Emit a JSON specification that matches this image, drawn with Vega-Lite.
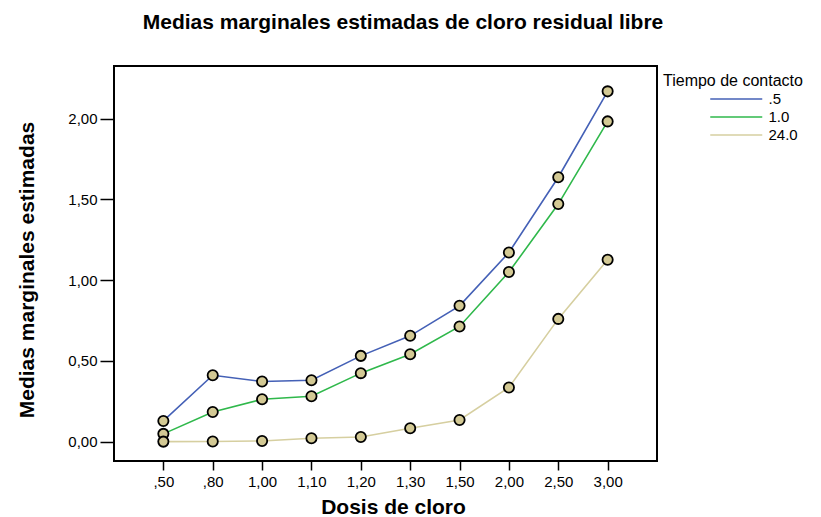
{
  "$schema": "https://vega.github.io/schema/vega-lite/v6.json",
  "autosize": {"type": "none"},
  "padding": {"left": 114, "top": 66, "right": 164, "bottom": 56},
  "width": 543,
  "height": 395,
  "background": "white",
  "title": {
    "text": "Medias marginales estimadas de cloro residual libre",
    "font": "Liberation Sans",
    "fontSize": 21,
    "fontWeight": "bold",
    "color": "black",
    "anchor": "middle",
    "frame": "group",
    "baseline": "alphabetic",
    "dx": 17.5,
    "offset": 16
  },
  "config": {
    "view": {"stroke": "black", "strokeWidth": 2},
    "axis": {"grid": false, "domain": false, "tickColor": "black", "tickWidth": 1.5, "labelColor": "black", "labelFont": "Liberation Sans", "labelFontSize": 15, "titleFont": "Liberation Sans", "titleFontSize": 21, "titleFontWeight": "bold", "titleColor": "black"}
  },
  "data": {
    "values": [
      {"dosis": ",50", "tiempo": ".5", "media": 0.128},
      {"dosis": ",80", "tiempo": ".5", "media": 0.411},
      {"dosis": "1,00", "tiempo": ".5", "media": 0.372},
      {"dosis": "1,10", "tiempo": ".5", "media": 0.380},
      {"dosis": "1,20", "tiempo": ".5", "media": 0.531},
      {"dosis": "1,30", "tiempo": ".5", "media": 0.655},
      {"dosis": "1,50", "tiempo": ".5", "media": 0.841},
      {"dosis": "2,00", "tiempo": ".5", "media": 1.171},
      {"dosis": "2,50", "tiempo": ".5", "media": 1.637},
      {"dosis": "3,00", "tiempo": ".5", "media": 2.169},
      {"dosis": ",50", "tiempo": "1.0", "media": 0.048},
      {"dosis": ",80", "tiempo": "1.0", "media": 0.184},
      {"dosis": "1,00", "tiempo": "1.0", "media": 0.262},
      {"dosis": "1,10", "tiempo": "1.0", "media": 0.281},
      {"dosis": "1,20", "tiempo": "1.0", "media": 0.424},
      {"dosis": "1,30", "tiempo": "1.0", "media": 0.541},
      {"dosis": "1,50", "tiempo": "1.0", "media": 0.713},
      {"dosis": "2,00", "tiempo": "1.0", "media": 1.050},
      {"dosis": "2,50", "tiempo": "1.0", "media": 1.471},
      {"dosis": "3,00", "tiempo": "1.0", "media": 1.983},
      {"dosis": ",50", "tiempo": "24.0", "media": 0.0},
      {"dosis": ",80", "tiempo": "24.0", "media": 0.001},
      {"dosis": "1,00", "tiempo": "24.0", "media": 0.004},
      {"dosis": "1,10", "tiempo": "24.0", "media": 0.021},
      {"dosis": "1,20", "tiempo": "24.0", "media": 0.029},
      {"dosis": "1,30", "tiempo": "24.0", "media": 0.083},
      {"dosis": "1,50", "tiempo": "24.0", "media": 0.134},
      {"dosis": "2,00", "tiempo": "24.0", "media": 0.335},
      {"dosis": "2,50", "tiempo": "24.0", "media": 0.760},
      {"dosis": "3,00", "tiempo": "24.0", "media": 1.126}
    ]
  },
  "encoding": {
    "x": {
      "field": "dosis",
      "type": "ordinal",
      "sort": [",50", ",80", "1,00", "1,10", "1,20", "1,30", "1,50", "2,00", "2,50", "3,00"],
      "scale": {"type": "point", "padding": 1.05},
      "axis": {"title": "Dosis de cloro", "labelAngle": 0, "tickSize": 9, "labelPadding": 4, "titleBaseline": "alphabetic", "titleX": 279, "titleY": 52, "titleAnchor": null}
    },
    "y": {
      "field": "media",
      "type": "quantitative",
      "scale": {"domain": [-0.12, 2.326], "nice": false, "zero": false},
      "axis": {"title": "Medias marginales estimadas", "values": [0, 0.5, 1, 1.5, 2], "labelExpr": "replace(format(datum.value, '.2f'), '.', ',')", "tickSize": 14, "labelPadding": 3, "titleBaseline": "alphabetic", "titleAngle": -90, "titleX": -81, "titleY": 203.5, "titleAlign": "center"}
    }
  },
  "layer": [
    {
      "mark": {"type": "line", "strokeWidth": 1.6},
      "encoding": {
        "color": {
          "field": "tiempo",
          "type": "nominal",
          "scale": {"domain": [".5", "1.0", "24.0"], "range": ["#4460b6", "#2fb84b", "#d6cfa0"]},
          "legend": {
            "title": "Tiempo de contacto",
            "orient": "none",
            "legendX": 549,
            "legendY": 7.4,
            "padding": 0,
            "titleFont": "Liberation Sans",
            "titleFontSize": 16,
            "titleFontWeight": "normal",
            "titleColor": "black",
            "titlePadding": 2,
            "labelFont": "Liberation Sans",
            "labelFontSize": 15,
            "labelColor": "black",
            "symbolType": "M-4,0H4",
            "symbolSize": 169,
            "symbolStrokeWidth": 1.5,
            "symbolOffset": 65.75,
            "labelOffset": 24.75,
            "rowPadding": 2
          }
        }
      }
    },
    {
      "mark": {"type": "point", "shape": "circle", "filled": true, "fill": "#d3c994", "stroke": "black", "strokeWidth": 1.8, "size": 105, "opacity": 1},
      "encoding": {"detail": {"field": "tiempo"}}
    }
  ]
}
